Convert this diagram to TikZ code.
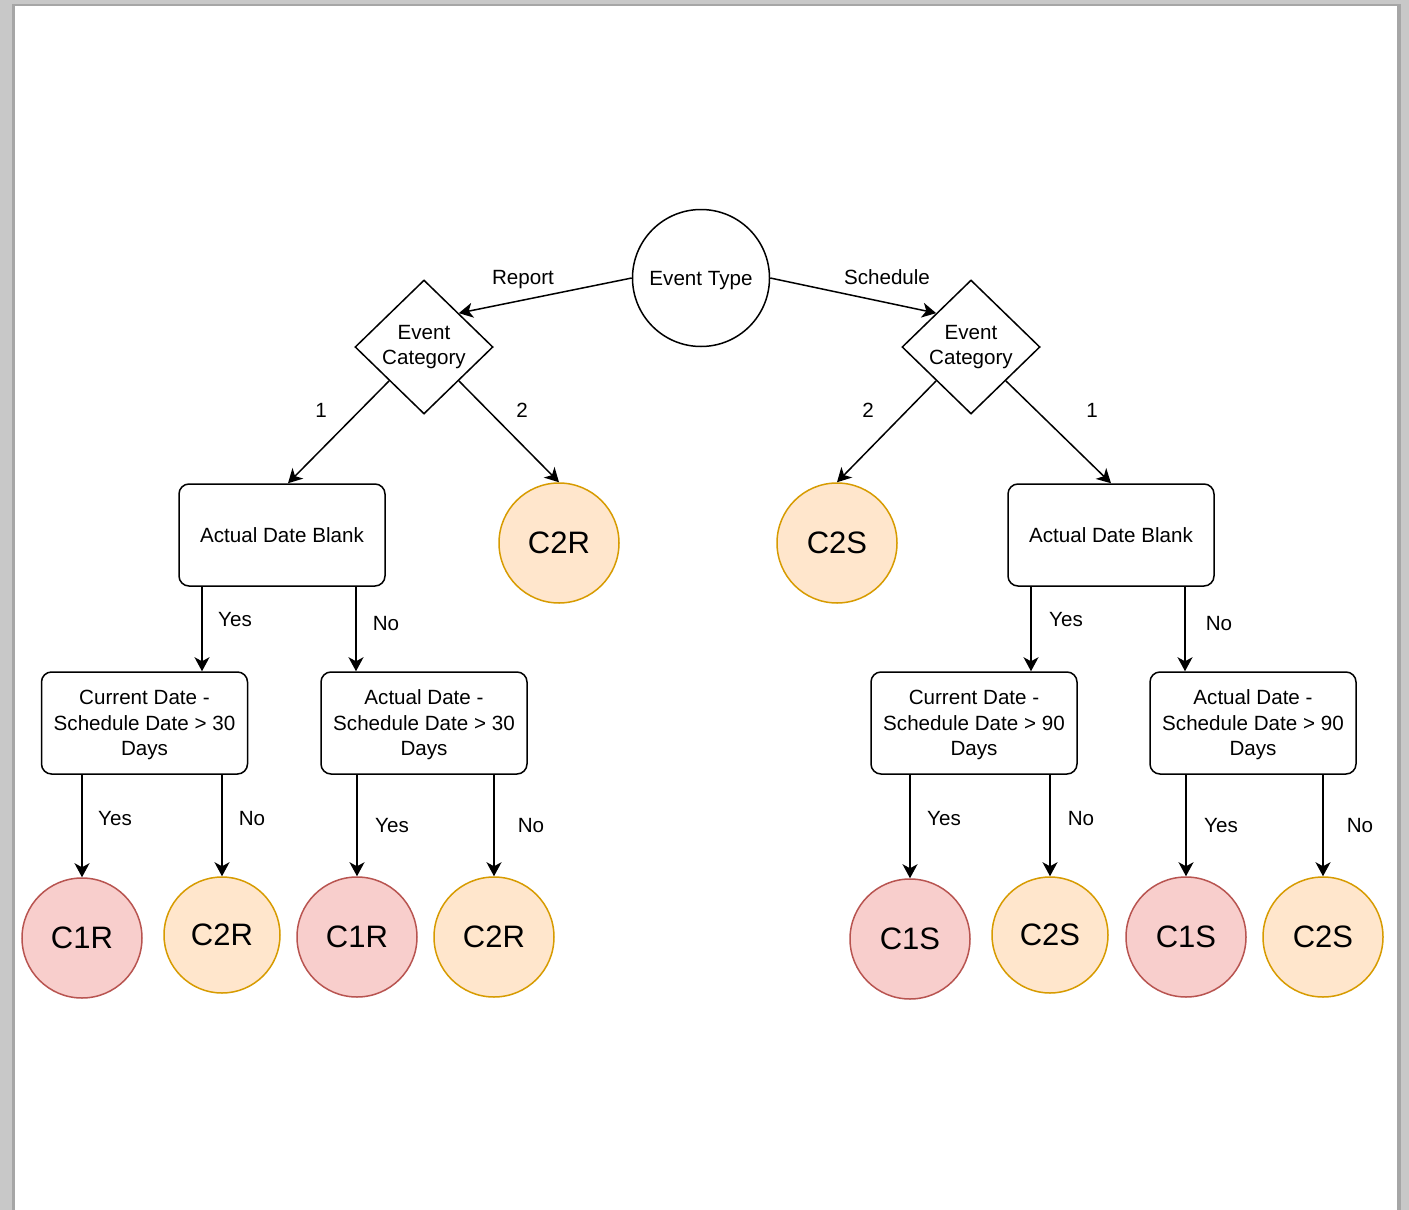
\documentclass[tikz,border=0pt]{standalone}
\usepackage{fontspec}
\setmainfont{Liberation Sans}
\usetikzlibrary{arrows.meta,shapes.geometric}

\definecolor{redfill}{HTML}{F8CECC}
\definecolor{redline}{HTML}{B85450}
\definecolor{orangefill}{HTML}{FFE6CC}
\definecolor{orangeline}{HTML}{D79B00}
\definecolor{pagegray}{HTML}{C8C8C8}
\definecolor{shadowgray}{HTML}{A6A6A6}

\tikzset{
	treenode/.style = {draw, line width = .75pt, align = center, inner sep = 0pt},
	root/.style = {treenode, circle, minimum size = 68.5pt, text depth = 0pt},
	decision/.style = {treenode, diamond, minimum width = 69pt, minimum height = 67pt},
	qbox/.style = {treenode, rounded corners = 5pt, minimum width = 103pt, minimum height = 51pt, text depth = 0pt},
	leafR/.style = {treenode, circle, minimum size = 60pt, fill = redfill, draw = redline, font = \fontsize{15.5pt}{18pt}\selectfont},
	leafO/.style = {treenode, circle, minimum size = 60pt, fill = orangefill, draw = orangeline, font = \fontsize{15.5pt}{18pt}\selectfont},
	lbl/.style = {anchor = base, inner sep = 0pt}
}

\begin{document}
\begin{tikzpicture}[x = .5pt, y = -.5pt, font = \fontsize{10.3pt}{12.75pt}\selectfont, >={Stealth[length = 7pt, width = 7.5pt, inset = 2pt]}]
		% page
		\fill [pagegray] (0, 0) rectangle (1409, 1210);
		\fill [shadowgray] (12, 4) rectangle (1401, 1210);
		\fill [white] (15, 6) rectangle (1397, 1210);
		\useasboundingbox (0, 0) rectangle (1409, 1210);

		\node [root] (type) at (701, 278) {Event Type};
		\node [decision] (catR) at (424, 347) {Event\\Category};
		\node [decision] (catS) at (971, 347) {Event\\Category};
		\node [qbox] (blankR) at (282, 535) {Actual Date Blank};
		\node [leafO] (topR) at (559, 543) {C2R};
		\node [leafO] (topS) at (837, 543) {C2S};
		\node [qbox] (blankS) at (1111, 535) {Actual Date Blank};
		\node [qbox] (curR) at (144.5, 723) {Current Date -\\Schedule Date > 30\\Days};
		\node [qbox] (actR) at (424, 723) {Actual Date -\\Schedule Date > 30\\Days};
		\node [qbox] (curS) at (974, 723) {Current Date -\\Schedule Date > 90\\Days};
		\node [qbox] (actS) at (1253, 723) {Actual Date -\\Schedule Date > 90\\Days};
		\node [leafR] (curRy) at (82, 938) {C1R};
		\node [leafO, minimum size = 58pt] (curRn) at (222, 935) {C2R};
		\node [leafR] (actRy) at (357, 937) {C1R};
		\node [leafO] (actRn) at (494, 937) {C2R};
		\node [leafR] (curSy) at (910, 939) {C1S};
		\node [leafO, minimum size = 58pt] (curSn) at (1050, 935) {C2S};
		\node [leafR] (actSy) at (1186, 937) {C1S};
		\node [leafO] (actSn) at (1323, 937) {C2S};

		\draw [->, line width = .75pt] (type.west) -- (catR.north east);
		\draw [->, line width = .75pt] (type.east) -- (catS.north west);
		\draw [->, line width = .75pt] (catR.south west) -- ([xshift = 3pt]blankR.north);
		\draw [->, line width = .75pt] (catR.south east) -- (topR.north);
		\draw [->, line width = .75pt] (catS.south west) -- (topS.north);
		\draw [->, line width = .75pt] (catS.south east) -- (blankS.north);
		\draw [->, line width = .75pt] ([xshift = -40pt]blankR.south) -- ([xshift = -40pt]blankR.south |- curR.north);
		\draw [->, line width = .75pt] ([xshift = 37pt]blankR.south) -- ([xshift = 37pt]blankR.south |- actR.north);
		\draw [->, line width = .75pt] ([xshift = -40pt]blankS.south) -- ([xshift = -40pt]blankS.south |- curS.north);
		\draw [->, line width = .75pt] ([xshift = 37pt]blankS.south) -- ([xshift = 37pt]blankS.south |- actS.north);
		\draw [->, line width = .75pt] (curR.south -| curRy.north) -- (curRy.north);
		\draw [->, line width = .75pt] (curR.south -| curRn.north) -- (curRn.north);
		\draw [->, line width = .75pt] (actR.south -| actRy.north) -- (actRy.north);
		\draw [->, line width = .75pt] (actR.south -| actRn.north) -- (actRn.north);
		\draw [->, line width = .75pt] (curS.south -| curSy.north) -- (curSy.north);
		\draw [->, line width = .75pt] (curS.south -| curSn.north) -- (curSn.north);
		\draw [->, line width = .75pt] (actS.south -| actSy.north) -- (actSy.north);
		\draw [->, line width = .75pt] (actS.south -| actSn.north) -- (actSn.north);

		\node [lbl] (lReport) at (523, 284) {Report};
		\node [lbl] (lSchedule) at (887, 284) {Schedule};
		\node [lbl] (lRone) at (321, 417) {1};
		\node [lbl] (lRtwo) at (522, 417) {2};
		\node [lbl] (lStwo) at (868, 417) {2};
		\node [lbl] (lSone) at (1092, 417) {1};
		\node [lbl] (lRyes) at (235, 626) {Yes};
		\node [lbl] (lRno) at (386, 630) {No};
		\node [lbl] (lSyes) at (1066, 626) {Yes};
		\node [lbl] (lSno) at (1219, 630) {No};
		\node [lbl] (lcurRyes) at (115, 825) {Yes};
		\node [lbl] (lcurRno) at (252, 825) {No};
		\node [lbl] (lactRyes) at (392, 832) {Yes};
		\node [lbl] (lactRno) at (531, 832) {No};
		\node [lbl] (lcurSyes) at (944, 825) {Yes};
		\node [lbl] (lcurSno) at (1081, 825) {No};
		\node [lbl] (lactSyes) at (1221, 832) {Yes};
		\node [lbl] (lactSno) at (1360, 832) {No};
	\end{tikzpicture}
\end{document}
